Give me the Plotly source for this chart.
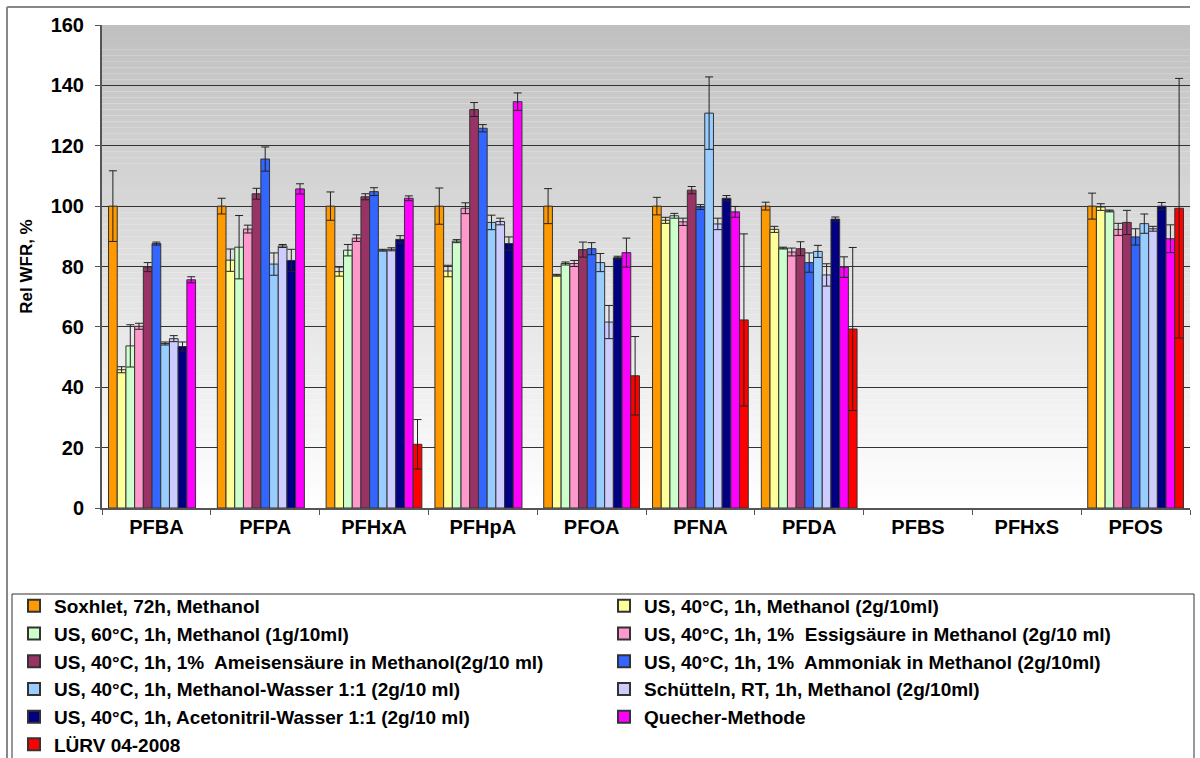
import plotly.graph_objects as go

categories = ["PFBA", "PFPA", "PFHxA", "PFHpA", "PFOA", "PFNA", "PFDA", "PFBS", "PFHxS", "PFOS"]

series_names = [
    "Soxhlet, 72h, Methanol",
    "US, 40°C, 1h, Methanol (2g/10ml)",
    "US, 60°C, 1h, Methanol (1g/10ml)",
    "US, 40°C, 1h, 1%  Essigsäure in Methanol (2g/10 ml)",
    "US, 40°C, 1h, 1%  Ameisensäure in Methanol(2g/10 ml)",
    "US, 40°C, 1h, 1%  Ammoniak in Methanol (2g/10ml)",
    "US, 40°C, 1h, Methanol-Wasser 1:1 (2g/10 ml)",
    "Schütteln, RT, 1h, Methanol (2g/10ml)",
    "US, 40°C, 1h, Acetonitril-Wasser 1:1 (2g/10 ml)",
    "Quecher-Methode",
    "LÜRV 04-2008",
]

colors = ["#FF9900", "#FFFF99", "#CCFFCC", "#FF99CC", "#993366", "#3366FF",
          "#99CCFF", "#CCCCFF", "#000080", "#FF00FF", "#FF0000"]

N = None
soxhlet      = [100, 100, 100, 100, 100, 100, 100, N, N, 100]
soxhlet_err  = [11.7, 2.6, 4.7, 6.0, 5.8, 2.9, 1.3, N, N, 4.3]
us40_meoh     = [45.8, 82.1, 78.3, 78.5, 77.1, 95.3, 92.3, N, N, 99.7]
us40_meoh_err = [1.0, 3.7, 1.5, 1.9, 0.3, 1.0, 1.0, N, N, 1.1]
us60_meoh     = [53.7, 86.4, 85.4, 88.4, 81.0, 96.8, 86.1, N, N, 98.4]
us60_meoh_err = [7.0, 10.5, 1.9, 0.5, 0.5, 0.8, 0.3, N, N, 0.3]
essig         = [60.2, 92.4, 89.4, 99.3, 81.0, 94.8, 84.8, N, N, 92.3]
essig_err     = [1.0, 1.3, 1.1, 1.8, 1.0, 1.2, 1.3, N, N, 2.0]
ameisen       = [79.8, 104.1, 103.1, 132.0, 85.6, 105.3, 85.9, N, N, 94.6]
ameisen_err   = [1.5, 1.8, 1.0, 2.3, 2.5, 1.2, 2.3, N, N, 4.0]
ammoniak      = [87.6, 115.6, 104.8, 125.8, 85.9, 99.7, 81.3, N, N, 89.8]
ammoniak_err  = [0.5, 4.0, 1.3, 1.2, 2.0, 0.8, 3.2, N, N, 2.7]
meoh_wasser     = [54.5, 80.8, 85.4, 94.6, 81.3, 130.8, 85.0, N, N, 94.2]
meoh_wasser_err = [0.5, 3.7, 0.3, 2.4, 3.0, 12.0, 2.0, N, N, 3.2]
schuetteln      = [56.1, 86.8, 85.7, 94.9, 61.6, 94.1, 77.2, N, N, 92.5]
schuetteln_err  = [1.0, 0.5, 0.5, 1.1, 5.5, 1.9, 3.7, N, N, 0.8]
acn_wasser      = [53.5, 82.0, 89.0, 87.6, 82.9, 102.6, 95.7, N, N, 100.0]
acn_wasser_err  = [1.5, 3.7, 1.2, 2.2, 0.5, 0.9, 0.7, N, N, 1.2]
quecher         = [75.6, 105.7, 102.6, 134.6, 84.6, 98.1, 79.8, N, N, 89.2]
quecher_err     = [1.0, 1.7, 0.8, 2.9, 4.8, 1.8, 3.4, N, N, 4.6]
luerv           = [N, N, 21.1, N, 43.8, 62.3, 59.3, N, N, 99.3]
luerv_err       = [N, N, 8.2, N, 13.0, 28.5, 27.0, N, N, 43.0]

values = [soxhlet, us40_meoh, us60_meoh, essig, ameisen, ammoniak,
          meoh_wasser, schuetteln, acn_wasser, quecher, luerv]
errors = [soxhlet_err, us40_meoh_err, us60_meoh_err, essig_err, ameisen_err, ammoniak_err,
          meoh_wasser_err, schuetteln_err, acn_wasser_err, quecher_err, luerv_err]

y_ticks = [0, 20, 40, 60, 80, 100, 120, 140, 160]

FONT = "Liberation Sans, Arial, sans-serif"
W, H = 1200, 758
L, R, T, B = 102, 10, 25, 250
PW, PH = W - L - R, H - T - B


def px_x(p):
    return (p - L) / PW


def px_y(p):
    return (H - B - p) / PH


fig = go.Figure()
for name, col, v, e in zip(series_names, colors, values, errors):
    fig.add_trace(go.Bar(
        x=categories, y=v, name=name,
        marker=dict(color=col, line=dict(color="#333333", width=1)),
        error_y=dict(type="data", array=[x if x is not None else 0 for x in e],
                     visible=True, color="#222222", thickness=1, width=4),
    ))

# gradient background (plot area): gray at top to white at bottom
shapes = []
nstrips = 80
for i in range(nstrips):
    y0 = 160 * i / nstrips
    y1 = 160 * (i + 1) / nstrips
    f = (i + 0.5) / nstrips  # 0 bottom, 1 top
    c = int(round(255 - (255 - 192) * f))
    shapes.append(dict(type="rect", xref="x domain", yref="y", x0=0, x1=1, y0=y0, y1=y1,
                       fillcolor=f"rgb({c},{c},{c})", line=dict(width=0), layer="below"))

# outer chart frame
shapes.append(dict(type="line", xref="paper", yref="paper", x0=px_x(7), x1=px_x(1190),
                   y0=px_y(7), y1=px_y(7), line=dict(color="#888888", width=2)))
shapes.append(dict(type="line", xref="paper", yref="paper", x0=px_x(7), x1=px_x(7),
                   y0=px_y(7), y1=px_y(760), line=dict(color="#888888", width=2)))
# legend frame
shapes.append(dict(type="rect", xref="paper", yref="paper", x0=px_x(12), x1=px_x(1194),
                   y0=px_y(594), y1=px_y(765), fillcolor="white",
                   line=dict(color="#333333", width=1), layer="below"))

fig.update_layout(
    width=W, height=H,
    margin=dict(l=L, r=R, t=T, b=B, pad=0, autoexpand=False),
    paper_bgcolor="white", plot_bgcolor="white",
    barmode="group", bargap=0.12, bargroupgap=0,
    font=dict(family=FONT, color="black"),
    shapes=shapes,
    showlegend=True,
    legend=dict(
        orientation="h", x=px_x(14), y=px_y(587), xanchor="left", yanchor="top",
        entrywidth=545, entrywidthmode="pixels",
        bgcolor="rgba(0,0,0,0)", borderwidth=0,
        font=dict(family=FONT, size=19, weight="bold", color="black"),
        traceorder="normal", itemsizing="constant",
    ),
    xaxis=dict(
        type="category", tickson="boundaries", ticks="outside", ticklen=5,
        tickcolor="#555555", showline=True, linecolor="#555555", linewidth=2,
        tickfont=dict(family=FONT, size=20, weight="bold"),
        showgrid=False, fixedrange=True,
    ),
    yaxis=dict(
        range=[0, 160], tickvals=y_ticks, ticks="outside", ticklen=5,
        tickcolor="#555555", showline=True, linecolor="#555555", linewidth=2,
        tickfont=dict(family=FONT, size=20, weight="bold"), ticklabelstandoff=7,
        showgrid=True, gridcolor="#333333", gridwidth=1, zeroline=False,
        title=dict(text="Rel WFR, %", font=dict(family=FONT, size=17, weight="bold"), standoff=14),
    ),
)

fig.write_html("out.html")
